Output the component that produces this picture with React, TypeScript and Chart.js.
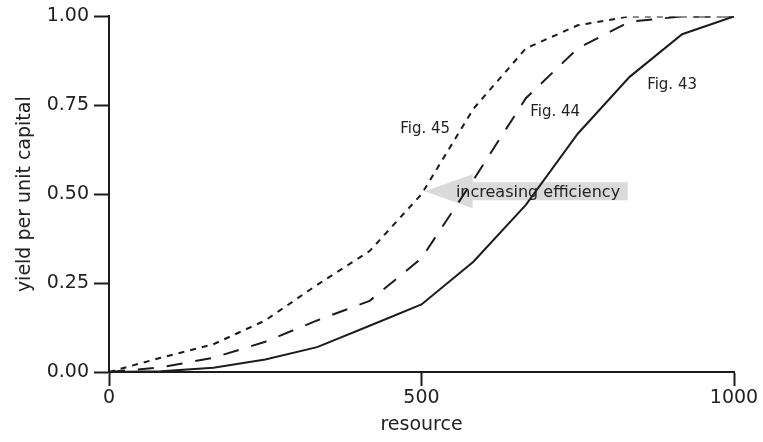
import React, { useEffect, useRef } from "react";
import { Chart, registerables } from "chart.js";

Chart.register(...registerables);

const resource = [0, 83, 167, 250, 333, 417, 500, 583, 667, 750, 833, 917, 1000];
const fig43 = [0, 0.002, 0.012, 0.035, 0.07, 0.13, 0.19, 0.31, 0.47, 0.67, 0.83, 0.95, 1.0];
const fig44 = [0, 0.013, 0.04, 0.085, 0.145, 0.2, 0.32, 0.54, 0.77, 0.91, 0.985, 1.0, 1.0];
const fig45 = [0, 0.04, 0.078, 0.145, 0.245, 0.34, 0.5, 0.74, 0.91, 0.975, 1.0, 1.0, 1.0];
const seriesNames = ["Fig. 43", "Fig. 44", "Fig. 45"];
const yTicks = [0, 0.25, 0.5, 0.75, 1.0];
const xTicks = [0, 500, 1000];

// annotation anchors in data coordinates
const labelAnchors = [
  { text: "Fig. 43", x: 861, y: 0.807 },
  { text: "Fig. 44", x: 674, y: 0.732 },
  { text: "Fig. 45", x: 466, y: 0.682 },
];
const arrowTip = { x: 505, y: 0.508 };
const arrowTail = { x: 830, y: 0.508 };
const arrowText = { text: "increasing efficiency", x: 555, y: 0.505 };

const FONT = "'DejaVu Sans', sans-serif";
const INK = "#1c1c1c";
const TEXT = "#222222";

const annotations = {
  id: "annotations",
  beforeDatasetsDraw(chart: any) {
    const { ctx, scales } = chart;
    const x = scales.x, y = scales.y;
    const tipX = x.getPixelForValue(arrowTip.x);
    const tipY = y.getPixelForValue(arrowTip.y);
    const tailX = x.getPixelForValue(arrowTail.x);
    const headLen = 48, headHalf = 17, bodyHalf = 9;
    ctx.save();
    ctx.fillStyle = "#dadada";
    ctx.beginPath();
    ctx.moveTo(tipX, tipY);
    ctx.lineTo(tipX + headLen, tipY - headHalf);
    ctx.lineTo(tipX + headLen, tipY - bodyHalf);
    ctx.lineTo(tailX, tipY - bodyHalf);
    ctx.lineTo(tailX, tipY + bodyHalf);
    ctx.lineTo(tipX + headLen, tipY + bodyHalf);
    ctx.lineTo(tipX + headLen, tipY + headHalf);
    ctx.closePath();
    ctx.fill();
    ctx.fillStyle = TEXT;
    ctx.font = `16px ${FONT}`;
    ctx.textAlign = "left";
    ctx.textBaseline = "middle";
    ctx.fillText(arrowText.text, x.getPixelForValue(arrowText.x), y.getPixelForValue(arrowText.y));
    ctx.restore();
  },
  afterDatasetsDraw(chart: any) {
    const { ctx, scales } = chart;
    ctx.save();
    ctx.fillStyle = TEXT;
    ctx.font = `15px ${FONT}`;
    ctx.textAlign = "left";
    ctx.textBaseline = "middle";
    for (const a of labelAnchors) {
      ctx.fillText(a.text, scales.x.getPixelForValue(a.x), scales.y.getPixelForValue(a.y));
    }
    ctx.restore();
  },
};

export default function App() {
  const ref = useRef<HTMLCanvasElement>(null);
  useEffect(() => {
    if (!ref.current) return;
    const mk = (vals: number[]) => resource.map((r, i) => ({ x: r, y: vals[i] }));
    const chart = new Chart(ref.current, {
      type: "line",
      data: {
        datasets: [
          { label: seriesNames[0], data: mk(fig43), borderColor: INK, borderWidth: 2, pointRadius: 0, tension: 0, fill: false },
          { label: seriesNames[1], data: mk(fig44), borderColor: INK, borderWidth: 2, borderDash: [16, 13], pointRadius: 0, tension: 0, fill: false },
          { label: seriesNames[2], data: mk(fig45), borderColor: INK, borderWidth: 2, borderDash: [6, 6], pointRadius: 0, tension: 0, fill: false },
        ],
      },
      options: {
        responsive: false,
        animation: false,
        devicePixelRatio: 1,
        layout: { padding: { left: 0, top: 14, right: 29, bottom: 0 } },
        plugins: { legend: { display: false }, tooltip: { enabled: false } },
        scales: {
          x: {
            type: "linear",
            min: 0,
            max: 1000,
            afterBuildTicks: (s: any) => { s.ticks = xTicks.map((v) => ({ value: v })); },
            afterFit: (s: any) => { s.height = 70; },
            ticks: { font: { family: FONT, size: 19 }, color: TEXT, padding: 1, maxRotation: 0, callback: (v: any) => String(v) },
            grid: { drawOnChartArea: false, drawTicks: true, tickLength: 14, tickColor: INK, tickWidth: 2, color: INK },
            border: { display: true, color: INK, width: 2 },
            title: { display: true, text: "resource", font: { family: FONT, size: 19 }, color: TEXT, padding: { top: 0, bottom: 6 } },
          },
          y: {
            type: "linear",
            min: 0,
            max: 1,
            afterBuildTicks: (s: any) => { s.ticks = yTicks.map((v) => ({ value: v })); },
            afterFit: (s: any) => { s.width = 109; },
            ticks: { font: { family: FONT, size: 19 }, color: TEXT, padding: 5, callback: (v: any) => Number(v).toFixed(2) },
            grid: { drawOnChartArea: false, drawTicks: true, tickLength: 15, tickColor: INK, tickWidth: 2, color: INK },
            border: { display: true, color: INK, width: 2 },
            title: { display: true, text: "yield per unit capital", font: { family: FONT, size: 19 }, color: TEXT, padding: { top: 14, bottom: 0 } },
          },
        },
      },
      plugins: [annotations],
    });
    return () => chart.destroy();
  }, []);
  return (
    <div style={{ position: "fixed", left: 0, top: 0, width: 763, height: 442, background: "#fff" }}>
      <canvas ref={ref} width={763} height={442} />
    </div>
  );
}
